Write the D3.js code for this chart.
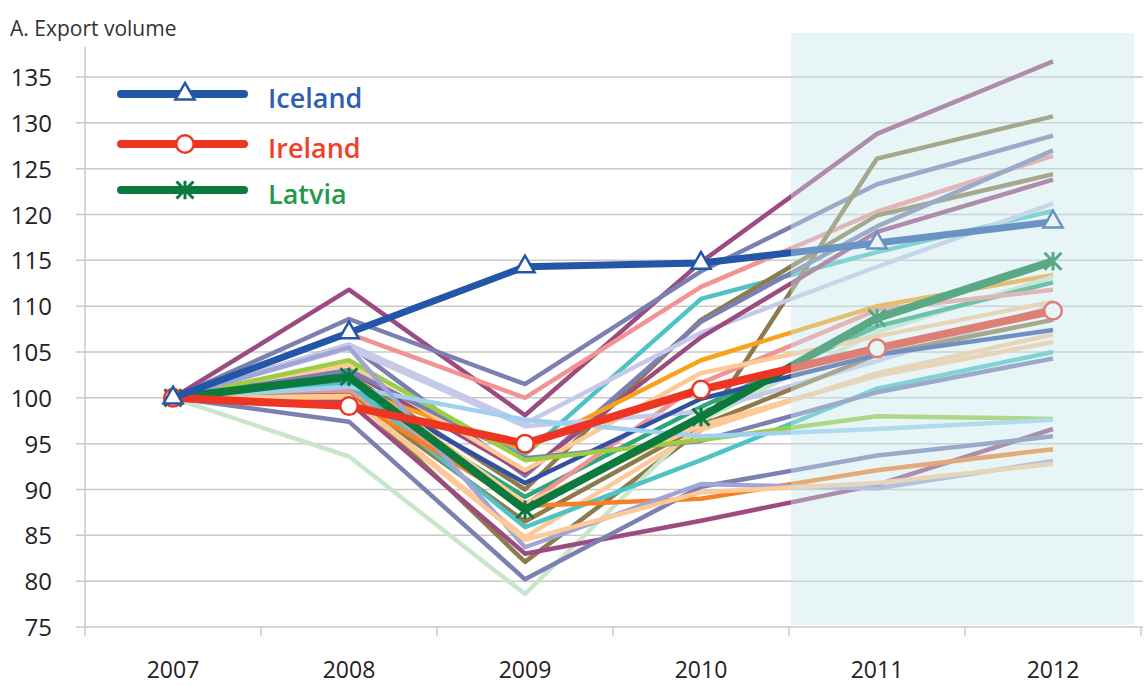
<!DOCTYPE html>
<html>
<head>
<meta charset="utf-8">
<script src="https://cdn.jsdelivr.net/npm/d3@7"></script>
<style>
  body { margin: 0; background: #fff; }
  text { font-family: "Open Sans", sans-serif; }
</style>
</head>
<body>
<svg id="chart" width="1145" height="686"></svg>
<script>
const years = ["2007", "2008", "2009", "2010", "2011", "2012"];
const yTicks = [75, 80, 85, 90, 95, 100, 105, 110, 115, 120, 125, 130, 135];

const iceland = [100, 107.1, 114.3, 114.7, 116.9, 119.2];
const ireland = [100, 99.1, 95.0, 100.9, 105.4, 109.5];
const latvia = [100, 102.3, 87.8, 97.9, 108.7, 114.9];

// the other countries, drawn thin in the background
const otherValues = [
  [100, 111.8, 98.1, 114.8, 128.8, 136.7],
  [100, 108.6, 101.5, 113.8, 123.3, 128.6],
  [100, 107.0, 100.0, 112.1, 120.3, 126.4],
  [100, 101.8, 93.8, 110.8, 115.9, 120.4],
  [100, 100.6, 82.1, 96.5, 126.1, 130.7],
  [100, 102.5, 90.0, 108.5, 119.9, 124.4],
  [100, 105.8, 91.5, 108.3, 118.7, 127.0],
  [100, 105.8, 97.2, 107.1, 114.3, 121.2],
  [100, 103.0, 91.8, 106.6, 118.1, 123.8],
  [100, 101.0, 94.4, 104.1, 110.0, 113.4],
  [100, 93.6, 78.6, 97.5, 107.2, 113.2],
  [100, 101.0, 89.2, 99.0, 107.8, 112.6],
  [100, 100.8, 88.3, 101.6, 109.6, 111.8],
  [100, 103.6, 92.1, 102.7, 106.7, 110.5],
  [100, 105.4, 96.9, 98.5, 104.0, 110.0],
  [100, 100.3, 86.5, 97.0, 104.7, 108.5],
  [100, 101.5, 90.7, 99.9, 104.7, 107.4],
  [100, 100.2, 84.8, 96.5, 102.7, 106.9],
  [100, 102.5, 88.5, 97.0, 102.4, 106.1],
  [100, 101.5, 85.9, 93.2, 101.0, 105.0],
  [100, 103.0, 93.4, 95.3, 100.6, 104.3],
  [100, 104.1, 93.2, 95.4, 98.0, 97.7],
  [100, 101.2, 97.6, 95.8, 96.6, 97.6],
  [100, 99.5, 83.0, 86.6, 90.5, 96.6],
  [100, 97.4, 80.2, 90.3, 93.7, 95.8],
  [100, 100.0, 88.2, 89.0, 92.1, 94.4],
  [100, 105.5, 83.7, 90.6, 90.1, 93.1],
  [100, 100.1, 84.5, 89.7, 90.7, 92.8]
];
const otherColors = [
  "#9c4b80", "#7b7fb1", "#f29393", "#4fc3c3", "#8e7b4c", "#8e7b4c", "#7b7fb1",
  "#c6c9e7", "#9c4b80", "#f9a11b", "#c9e6ca", "#2ea67c", "#f29393", "#fdc997",
  "#c6c9e7", "#8e7b4c", "#3350a3", "#fdc997", "#fdc997", "#4fc3c3", "#7b7fb1",
  "#9ccd43", "#a0d0ef", "#9c4b80", "#7b7fb1", "#f58025", "#a0a5d6", "#fdc997"
];

const svg = d3.select("#chart");

const x = d3.scaleBand().domain(years).range([85, 1141]);
const y = d3.scaleLinear().domain([75, 135]).range([627, 77]);
const cx = (d) => x(d) + x.bandwidth() / 2;

const line = d3
  .line()
  .x((d, i) => cx(years[i]))
  .y((d) => y(d));

// excel-style star: vertical bar plus an X
const symbolStar = {
  draw(context, size) {
    const r = Math.sqrt(size) / 2;
    const u = r * 0.92;
    context.moveTo(0, -r);
    context.lineTo(0, r);
    context.moveTo(-u, -u);
    context.lineTo(u, u);
    context.moveTo(-u, u);
    context.lineTo(u, -u);
  }
};

// title
svg
  .append("text")
  .attr("x", 10)
  .attr("y", 36)
  .attr("font-size", 21)
  .attr("fill", "#333")
  .text("A. Export volume");

// gridlines + y labels
svg
  .append("g")
  .selectAll("line")
  .data(yTicks)
  .enter()
  .append("line")
  .attr("x1", 76)
  .attr("x2", 1143)
  .attr("y1", (d) => y(d))
  .attr("y2", (d) => y(d))
  .attr("stroke", "#c9c9c9")
  .attr("stroke-width", 1.5);

svg
  .append("g")
  .selectAll("text")
  .data(yTicks)
  .enter()
  .append("text")
  .attr("x", 52)
  .attr("y", (d) => y(d) + 9)
  .attr("text-anchor", "end")
  .attr("font-size", 24)
  .attr("fill", "#222")
  .text((d) => d);

svg
  .append("line")
  .attr("x1", 85)
  .attr("x2", 85)
  .attr("y1", 47)
  .attr("y2", y(75))
  .attr("stroke", "#c9c9c9")
  .attr("stroke-width", 1.5);

// x ticks at band edges
const edges = years.map((d) => x(d)).concat([x(years[5]) + x.bandwidth()]);
svg
  .append("g")
  .selectAll("line")
  .data(edges)
  .enter()
  .append("line")
  .attr("x1", (d) => d)
  .attr("x2", (d) => d)
  .attr("y1", y(75))
  .attr("y2", y(75) + 9)
  .attr("stroke", "#c9c9c9")
  .attr("stroke-width", 1.5);

svg
  .append("g")
  .selectAll("text")
  .data(years)
  .enter()
  .append("text")
  .attr("x", (d) => cx(d))
  .attr("y", 678)
  .attr("text-anchor", "middle")
  .attr("font-size", 23)
  .attr("fill", "#222")
  .text((d) => d);

// background countries
svg
  .append("g")
  .selectAll("path")
  .data(otherValues)
  .enter()
  .append("path")
  .attr("d", (d) => line(d))
  .attr("fill", "none")
  .attr("stroke", (d, i) => otherColors[i])
  .attr("stroke-width", 4.5)
  .attr("stroke-linejoin", "round");

// highlighted countries
const highlights = [
  { name: "Latvia", values: latvia, color: "#0b7a3e", text: "#1f9a4a", symbol: symbolStar, size: 340 },
  { name: "Ireland", values: ireland, color: "#ee3524", text: "#ef4129", symbol: d3.symbolCircle, size: 240 },
  { name: "Iceland", values: iceland, color: "#2356a6", text: "#2d5fae", symbol: d3.symbolTriangle, size: 160 }
];

highlights.forEach((h) => {
  svg
    .append("path")
    .attr("d", line(h.values))
    .attr("fill", "none")
    .attr("stroke", h.color)
    .attr("stroke-width", h.name === "Iceland" ? 7 : 8)
    .attr("stroke-linejoin", "round");

  svg
    .append("g")
    .selectAll("path")
    .data(h.values)
    .enter()
    .append("path")
    .attr("d", d3.symbol(h.symbol, h.size))
    .attr("transform", (d, i) => `translate(${cx(years[i])},${y(d)})`)
    .attr("fill", h.symbol === symbolStar ? "none" : "#fff")
    .attr("stroke", h.color)
    .attr("stroke-width", h.symbol === symbolStar ? 3 : 2.5);
});

// forecast shading, drawn over the lines
svg
  .append("rect")
  .attr("x", x("2011") + 2)
  .attr("y", 33)
  .attr("width", x("2012") + x.bandwidth() - 7 - (x("2011") + 2))
  .attr("height", y(75) - 2 - 33)
  .attr("fill", "rgb(201,230,233)")
  .attr("opacity", 0.42);

// legend
const legendY = [94, 144, 190];
["Iceland", "Ireland", "Latvia"].forEach((name, i) => {
  const h = highlights.find((d) => d.name === name);
  const g = svg.append("g").attr("transform", `translate(0,${legendY[i]})`);
  g.append("line")
    .attr("x1", 121)
    .attr("x2", 244)
    .attr("stroke", h.color)
    .attr("stroke-width", 8)
    .attr("stroke-linecap", "round");
  g.append("path")
    .attr("d", d3.symbol(h.symbol, h.size))
    .attr("transform", "translate(185,0)")
    .attr("fill", h.symbol === symbolStar ? "none" : "#fff")
    .attr("stroke", h.color)
    .attr("stroke-width", h.symbol === symbolStar ? 3 : 2.5);
  g.append("text")
    .attr("x", 268)
    .attr("y", 14)
    .attr("font-size", 27)
    .attr("font-weight", 600)
    .attr("fill", h.text)
    .text(name);
});
</script>
</body>
</html>
